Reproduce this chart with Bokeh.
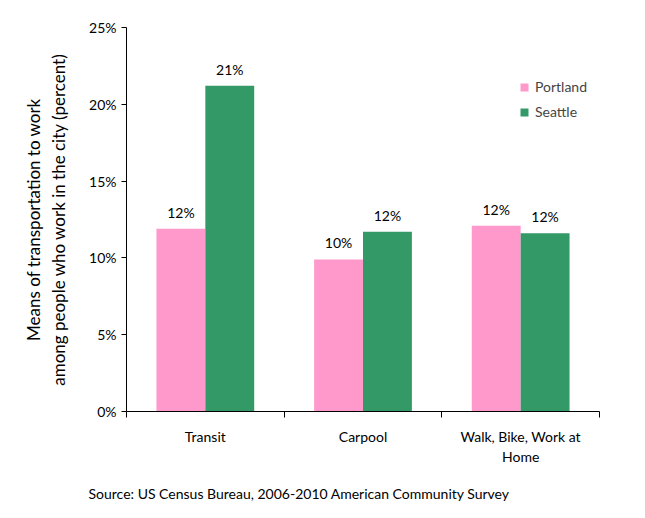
import numpy as np
from bokeh.plotting import figure
from bokeh.core.properties import value
from bokeh.models import (ColumnDataSource, FixedTicker, LabelSet, Legend, LegendItem,
                          Range1d, Title)
from bokeh.embed import file_html
from bokeh.resources import INLINE

categories = ["Transit", "Carpool", "Walk, Bike, Work at\nHome"]
portland = [11.9, 9.9, 12.1]
seattle = [21.2, 11.7, 11.6]
y_ticks = [0, 5, 10, 15, 20, 25]

FONT = "Lato"
PINK = "#FF99CC"
GREEN = "#339966"

idx = np.arange(len(categories)) + 0.5
bw = 0.31

src_p = ColumnDataSource(dict(x=idx - bw / 2, y=portland,
                              lab=[f"{round(v)}%" for v in portland]))
src_s = ColumnDataSource(dict(x=idx + bw / 2, y=seattle,
                              lab=[f"{round(v)}%" for v in seattle]))

p = figure(width=628, height=516, output_backend="svg", toolbar_location=None,
           x_range=Range1d(0, len(categories)), y_range=Range1d(0, 25),
           min_border_left=126, min_border_right=29, min_border_top=27,
           min_border_bottom=104)
p.outline_line_color = None
p.grid.grid_line_color = None

rp = p.vbar(x="x", top="y", width=bw, source=src_p, fill_color=PINK, line_color=None)
rs = p.vbar(x="x", top="y", width=bw, source=src_s, fill_color=GREEN, line_color=None)

for s in (src_p, src_s):
    p.add_layout(LabelSet(x="x", y="y", text="lab", source=s, text_align="center",
                          text_baseline="alphabetic", y_offset=11,
                          text_font=value(FONT), text_font_size="14px", text_color="black"))

# y axis
ya = p.yaxis[0]
ya.ticker = FixedTicker(ticks=y_ticks, minor_ticks=[])
ya.major_label_overrides = {t: f"{t}%" for t in y_ticks}
ya.major_tick_in = 0
ya.major_tick_out = 5
ya.axis_line_color = "black"
ya.major_tick_line_color = "black"
ya.major_label_text_font = FONT
ya.major_label_text_font_size = "14px"
ya.major_label_text_color = "black"
ya.major_label_standoff = 5
ya.axis_label = "Means of transportation to work\namong people who work in the city (percent)"
ya.axis_label_text_font = FONT
ya.axis_label_text_font_size = "17px"
ya.axis_label_text_font_style = "normal"
ya.axis_label_text_color = "black"
ya.axis_label_standoff = 17

# x axis
xa = p.xaxis[0]
xa.ticker = FixedTicker(ticks=list(idx), minor_ticks=list(range(len(categories) + 1)))
xa.major_label_overrides = {float(v): c for v, c in zip(idx, categories)}
xa.major_tick_line_color = None
xa.minor_tick_in = 0
xa.minor_tick_out = 6
xa.minor_tick_line_color = "black"
xa.axis_line_color = "black"
xa.major_label_text_font = FONT
xa.major_label_text_font_size = "14px"
xa.major_label_text_color = "black"
xa.major_label_standoff = 10

legend = Legend(items=[LegendItem(label="Portland", renderers=[rp]),
                       LegendItem(label="Seattle", renderers=[rs])],
                location=(393, 291), glyph_width=10, glyph_height=10,
                label_height=16, label_standoff=6, spacing=8, padding=0, margin=0,
                border_line_color=None, background_fill_alpha=0,
                label_text_font=FONT, label_text_font_size="14px")
p.add_layout(legend)

p.add_layout(Title(text="Source:  US Census Bureau, 2006-2010 American Community Survey",
                   align="left", offset=-38, text_font=FONT, text_font_size="14px",
                   text_font_style="normal", text_color="black", standoff=30), "below")

open("out.html", "w").write(file_html(p, INLINE))
